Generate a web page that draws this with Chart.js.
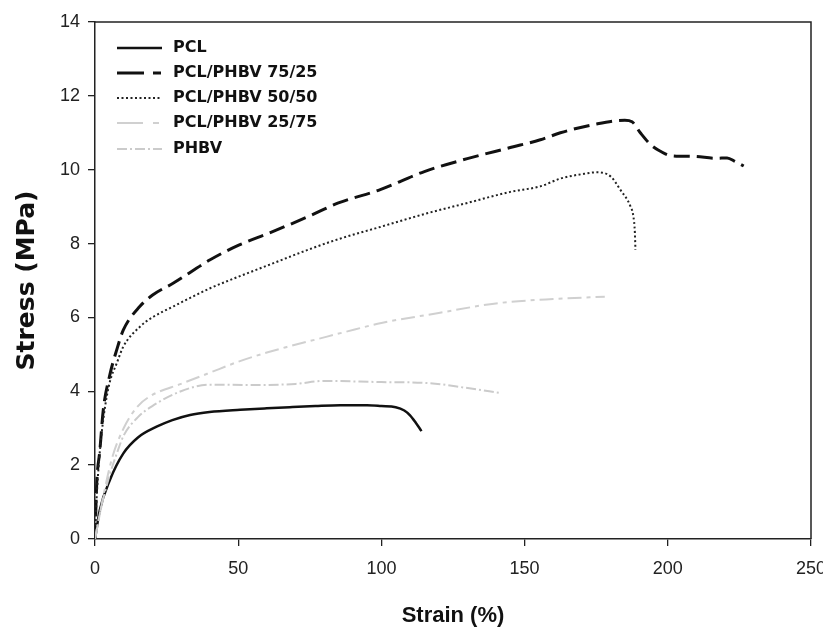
<!DOCTYPE html>
<html>
<head>
<meta charset="utf-8">
<script src="https://cdn.jsdelivr.net/npm/chart.js@4.4.1/dist/chart.umd.min.js"></script>
<style>
  html, body { margin: 0; padding: 0; background: #fff; }
  #wrap { width: 823px; height: 631px; position: relative; }
</style>
</head>
<body>
<div id="wrap"><canvas id="c" width="823" height="631"></canvas></div>
<script>
// ---- Data ----
const seriesLabels = ['PCL', 'PCL/PHBV 75/25', 'PCL/PHBV 50/50', 'PCL/PHBV 25/75', 'PHBV'];

const pclStrain = [0, 1.7, 5.2, 9.9, 15, 21.5, 27, 33.2, 40, 50.7, 60, 68, 77, 85.6, 95, 100, 105, 108, 110, 112, 114];
const pclStress = [0, 0.79, 1.6, 2.32, 2.75, 3.04, 3.22, 3.36, 3.44, 3.5, 3.54, 3.57, 3.6, 3.62, 3.62, 3.6, 3.57, 3.48, 3.35, 3.15, 2.92];

const b7525Strain = [0, 0.6, 1.7, 2.9, 5.2, 7.5, 9.9, 15.7, 20, 27.4, 40.2, 50, 61, 75, 85, 99.6, 115, 130, 145, 155.5, 162.5, 174, 185, 187.5, 190.4, 194, 197.4, 201, 209, 217, 220.7, 223.6, 226.5];
const b7525Stress = [0, 1.5, 2.4, 3.5, 4.45, 5.1, 5.66, 6.3, 6.6, 6.93, 7.56, 7.95, 8.29, 8.75, 9.1, 9.46, 9.95, 10.3, 10.6, 10.81, 11.0, 11.22, 11.34, 11.3, 11.0, 10.68, 10.5, 10.38, 10.36, 10.31, 10.32, 10.22, 10.1];

const b5050Strain = [0, 0.5, 1.5, 3, 5, 7.6, 9.9, 15.7, 20, 27.4, 40.2, 50, 61, 75, 85, 99.6, 115, 130, 145, 155.5, 162.5, 170, 175.3, 180, 183.4, 187, 188, 188.5, 188.7];
const b5050Stress = [0, 1.0, 2.2, 3.3, 4.2, 4.76, 5.21, 5.75, 6.0, 6.3, 6.79, 7.1, 7.43, 7.85, 8.12, 8.45, 8.8, 9.1, 9.4, 9.55, 9.76, 9.88, 9.93, 9.82, 9.46, 9.0, 8.73, 8.3, 7.83];

const b2575Strain = [0, 3, 6, 10, 15, 20, 30, 40, 50, 60, 67, 78, 87, 100, 120, 140, 160, 178];
const b2575Stress = [0, 1.2, 2.2, 3.0, 3.6, 3.9, 4.2, 4.5, 4.8, 5.05, 5.2, 5.42, 5.6, 5.85, 6.12, 6.38, 6.5, 6.56];

const phbvStrain = [0, 2, 5, 8, 10, 15, 20, 30, 40, 55, 70, 80, 100, 117, 129, 142];
const phbvStress = [0, 0.8, 1.7, 2.4, 2.8, 3.3, 3.6, 4.0, 4.18, 4.17, 4.2, 4.28, 4.25, 4.22, 4.1, 3.95];

const xTicks = [0, 50, 100, 150, 200, 250];
const yTicks = [0, 2, 4, 6, 8, 10, 12, 14];

function pts(xs, ys) { return xs.map((x, i) => ({ x: x, y: ys[i] })); }

const styles = [
  { color: '#111', width: 2.5, dash: [] },
  { color: '#111', width: 3, dash: [16, 7] },
  { color: '#222', width: 2, dash: [2, 2.5] },
  { color: '#d0d0d0', width: 2, dash: [14, 5, 4, 5] },
  { color: '#cbcbcb', width: 2, dash: [10, 3, 2, 3] }
];

const allData = [
  pts(pclStrain, pclStress),
  pts(b7525Strain, b7525Stress),
  pts(b5050Strain, b5050Stress),
  pts(b2575Strain, b2575Stress),
  pts(phbvStrain, phbvStress)
];

const drawOrder = [4, 3, 2, 1, 0];

const datasets = seriesLabels.map((lab, i) => ({
  label: lab,
  data: allData[i],
  borderColor: styles[i].color,
  borderWidth: styles[i].width,
  borderDash: styles[i].dash,
  pointRadius: 0,
  cubicInterpolationMode: 'monotone',
  fill: false,
  order: drawOrder[i]
}));

const boxAndLegend = {
  id: 'boxAndLegend',
  afterDatasetsDraw(chart) {
    const ctx = chart.ctx;
    const a = chart.chartArea;
    ctx.save();
    ctx.strokeStyle = '#222';
    ctx.lineWidth = 1.5;
    ctx.beginPath();
    ctx.moveTo(a.left, a.top);
    ctx.lineTo(a.right, a.top);
    ctx.lineTo(a.right, a.bottom);
    ctx.stroke();
    const x0 = a.left + 22, x1 = a.left + 67, tx = a.left + 78;
    const yPos = [48, 73, 98, 123, 149];
    ctx.font = 'bold 16px "DejaVu Sans"';
    ctx.textBaseline = 'middle';
    ctx.textAlign = 'left';
    chart.data.datasets.forEach((ds, i) => {
      const y = yPos[i];
      ctx.strokeStyle = ds.borderColor;
      ctx.lineWidth = ds.borderWidth;
      ctx.setLineDash(i === 1 ? [27, 9, 8, 100] : (i === 3 ? [26, 10, 6, 100] : ds.borderDash));
      ctx.beginPath();
      ctx.moveTo(x0, y);
      ctx.lineTo(x1, y);
      ctx.stroke();
      ctx.setLineDash([]);
      ctx.fillStyle = '#111';
      ctx.fillText(ds.label, tx, y);
    });
    ctx.restore();
  }
};

new Chart(document.getElementById('c'), {
  type: 'line',
  data: { datasets: datasets },
  options: {
    responsive: false,
    animation: false,
    layout: { padding: { top: 22, left: 0, right: 12, bottom: 0 } },
    plugins: { legend: { display: false }, tooltip: { enabled: false } },
    scales: {
      x: {
        type: 'linear',
        min: 0, max: 250,
        afterBuildTicks(scale) { scale.ticks = xTicks.map(v => ({ value: v })); },
        afterFit(scale) { scale.height = 92; scale.paddingRight = 0; scale.paddingLeft = 0; },
        grid: { display: true, drawOnChartArea: false, drawTicks: true, tickLength: 7, color: '#222', lineWidth: 1.3 },
        border: { display: true, color: '#222', width: 1.5 },
        ticks: {
          color: '#222', padding: 12,
          font: { family: "'Liberation Sans', Arial", size: 18 },
          maxRotation: 0
        },
        title: {
          display: true, text: 'Strain (%)', color: '#111',
          font: { family: "'Liberation Sans', Arial", size: 22, weight: 'bold' },
          padding: { top: 0, bottom: 2 }
        }
      },
      y: {
        type: 'linear',
        min: 0, max: 14,
        afterBuildTicks(scale) { scale.ticks = yTicks.map(v => ({ value: v })); },
        afterFit(scale) { scale.width = 95; },
        grid: { display: true, drawOnChartArea: false, drawTicks: true, tickLength: 7, color: '#222', lineWidth: 1.3 },
        border: { display: true, color: '#222', width: 1.5 },
        ticks: {
          color: '#222', padding: 8,
          font: { family: "'Liberation Sans', Arial", size: 18 }
        },
        title: {
          display: true, text: 'Stress (MPa)', color: '#111',
          font: { family: "'DejaVu Sans'", size: 25, weight: 'bold' },
          padding: { top: 12, bottom: 0 }
        }
      }
    }
  },
  plugins: [boxAndLegend]
});
</script>
</body>
</html>
